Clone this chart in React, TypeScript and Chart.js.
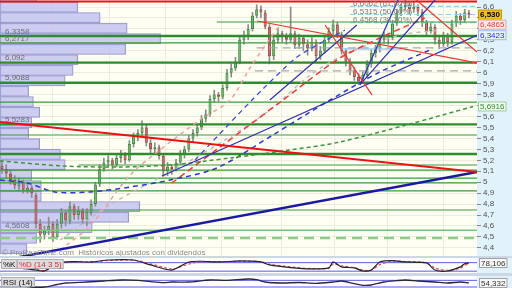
import React, { useEffect, useRef } from "react";
import { Chart, registerables } from "chart.js";
Chart.register(...registerables);

// ---------- price data (daily candles) ----------
const opens = [5.15,5.12,5.08,5.02,4.96,5.00,4.92,4.95,4.88,4.62,4.52,4.56,4.62,4.50,4.62,4.72,4.64,4.78,4.70,4.74,4.66,4.72,4.80,4.98,5.12,5.18,5.20,5.16,5.22,5.25,5.20,5.35,5.42,5.45,5.50,5.36,5.30,5.32,5.24,5.10,5.14,5.12,5.18,5.26,5.30,5.40,5.45,5.50,5.58,5.62,5.76,5.80,5.78,5.86,6.00,6.04,6.10,6.30,6.34,6.40,6.52,6.58,6.55,6.42,6.15,6.30,6.36,6.33,6.30,6.36,6.25,6.32,6.26,6.22,6.28,6.15,6.20,6.30,6.38,6.44,6.35,6.20,6.10,6.02,5.96,5.92,5.98,6.08,6.18,6.22,6.30,6.34,6.32,6.45,6.55,6.60,6.62,6.58,6.60,6.56,6.46,6.38,6.42,6.30,6.26,6.34,6.28,6.45,6.52,6.48,6.55];
const highs = [5.20,5.16,5.10,5.06,5.04,5.02,4.99,4.97,4.90,4.66,4.60,4.68,4.64,4.66,4.76,4.74,4.82,4.80,4.78,4.76,4.76,4.84,5.00,5.16,5.22,5.24,5.22,5.26,5.29,5.27,5.38,5.45,5.48,5.56,5.52,5.40,5.36,5.34,5.26,5.18,5.16,5.21,5.29,5.33,5.43,5.48,5.53,5.61,5.66,5.79,5.84,5.82,5.89,6.03,6.08,6.14,6.33,6.38,6.44,6.55,6.62,6.61,6.57,6.44,6.33,6.40,6.38,6.36,6.60,6.38,6.35,6.34,6.30,6.32,6.30,6.24,6.33,6.41,6.48,6.46,6.37,6.22,6.13,6.05,5.99,6.01,6.11,6.21,6.25,6.33,6.37,6.36,6.48,6.58,6.63,6.66,6.64,6.65,6.62,6.58,6.48,6.46,6.44,6.34,6.37,6.36,6.48,6.56,6.54,6.58,6.57];
const lows = [5.08,5.04,4.98,4.94,4.93,4.90,4.90,4.86,4.58,4.45,4.48,4.52,4.46,4.48,4.58,4.60,4.62,4.66,4.66,4.62,4.60,4.70,4.78,4.96,5.10,5.14,5.12,5.14,5.18,5.17,5.19,5.32,5.38,5.42,5.33,5.27,5.26,5.21,5.05,5.06,5.07,5.10,5.16,5.22,5.28,5.37,5.42,5.48,5.55,5.60,5.73,5.74,5.76,5.84,5.96,6.02,6.08,6.26,6.30,6.38,6.50,6.50,6.40,6.08,6.12,6.27,6.28,6.26,6.28,6.22,6.22,6.20,6.16,6.20,6.10,6.12,6.18,6.28,6.35,6.32,6.17,6.06,5.98,5.93,5.89,5.90,5.96,6.05,6.14,6.19,6.27,6.26,6.30,6.43,6.52,6.57,6.54,6.55,6.52,6.42,6.34,6.36,6.26,6.22,6.24,6.24,6.26,6.42,6.44,6.46,6.50];
const closes = [5.12,5.08,5.02,4.97,5.00,4.93,4.95,4.90,4.62,4.52,4.56,4.60,4.50,4.62,4.72,4.65,4.78,4.70,4.74,4.66,4.73,4.80,4.98,5.12,5.18,5.20,5.16,5.22,5.25,5.20,5.35,5.42,5.45,5.50,5.36,5.30,5.32,5.24,5.10,5.14,5.12,5.18,5.26,5.30,5.40,5.45,5.50,5.58,5.62,5.76,5.80,5.78,5.86,6.00,6.04,6.10,6.30,6.34,6.40,6.52,6.58,6.55,6.42,6.15,6.30,6.36,6.33,6.30,6.36,6.25,6.32,6.26,6.22,6.28,6.15,6.20,6.30,6.38,6.44,6.35,6.20,6.10,6.02,5.96,5.92,5.98,6.08,6.18,6.22,6.30,6.34,6.32,6.45,6.55,6.60,6.62,6.58,6.60,6.56,6.46,6.38,6.42,6.30,6.26,6.34,6.28,6.45,6.52,6.48,6.55,6.53];

// vertical grid (period separators), in candle index units
const gridDates = [11.8, 25.4, 38.6, 51.8, 65.9, 78.4, 90.8, 104];

// volume-by-price profile
const profilePrices = [6.694,6.598,6.502,6.406,6.310,6.214,6.118,6.022,5.927,5.831,5.735,5.639,5.543,5.447,5.351,5.255,5.159,5.063,4.967,4.872,4.776,4.680,4.584,4.488,4.392];
const profileVolumes = [23,49,63,80,101,79,49,46,41,18,21,25,20,18,25,38,41,20,26,26,88,81,58,23,17];
const profileLabels = [6.3358, 6.2717, 6.092, 5.9088, 5.5283, 4.5608];

// horizontal support / resistance levels
const majorLevels = [6.3358, 6.092, 5.9088, 5.5283, 5.258];
const minorLevels = [6.2717, 5.732, 5.431, 5.111, 5.038, 4.993, 4.920, 4.746];
const partialLevels = [[50.6, 6.463], [18, 5.157]]; // [start index, price]
const lightLevel = 4.5608;
const dashedLevel = 4.490;
const topRedLevel = 6.650;
const greyDashedLevels = [[60, 6.226], [59.6, 6.016]];
const fibLevels = [6.6062, 6.5315, 6.4568];
const fibNames = ["61,80%", "50,00%", "38,20%"];
const cyanSegment = [[79.6, 6.216], [94, 6.216]];

// trend lines: [index, price] pairs
const redMain = [[-0.47, 5.550], [111.9, 5.093]];
const navyMain = [[-0.47, 4.284], [111.9, 5.093]];
const redT1 = [[60.1, 6.472], [111.9, 6.089]];
const redT2 = [[94.9, 6.755], [111.9, 6.189]];
const redT3 = [[76.1, 6.436], [87.2, 5.796]];
const navyT1 = [[84.3, 5.888], [102, 6.664]];
const navyT2 = [[84.3, 5.888], [93.3, 6.664]];
const navyT3 = [[37.7, 5.057], [111.9, 6.3423]];
const navyT4 = [[63.1, 5.751], [83.6, 6.436]];

// moving averages / channels (dashed)
const greenMA = [[-0.47,5.194],[14.4,5.148],[27.8,5.139],[39.6,5.157],[53.7,5.221],[67.8,5.294],[79.6,5.367],[96.1,5.532],[111,5.6916]];
const navyMA = [[-0.47,5.020],[5.9,4.993],[12.5,4.911],[20.7,4.911],[30.2,4.956],[39.6,5.020],[50.6,5.130],[63.8,5.431],[77.3,5.751],[89,6.006],[100.8,6.207]];
const pinkMA = [[13.7,4.381],[20.7,4.600],[30.2,5.066],[37.2,5.294],[46.6,5.568],[53.7,5.751],[58.4,6.043],[62.4,6.271],[66,6.463]];
const redMA = [[40,4.993],[51.4,5.322],[66.2,5.751],[78.9,6.116],[89,6.317],[99.6,6.500]];
const greyMA = [[13.7,4.472],[25.4,4.792],[39.6,5.093],[51.4,5.358],[63.1,5.659],[72.6,5.979],[82,6.189],[93.8,6.344],[103.2,6.390]];
const navyChannel = [[45.5,5.203],[58.9,5.751],[69.5,6.143],[80.8,6.390]];

// price markers on the axis
const markerValues = [6.53, 6.4865, 6.3423, 5.6916];

// oscillators
const stochIdx = [0,4,8,10,13,15,17,21,25,31,35,40,44,47,51,56,61,63,68,73,77,78,80,83,85,87,89,92,95,100,102,105,108,109,110];
const stochK = [64,43,28,21,78,85,88,85,99,99,64,28,85,90,85,92,85,64,45,36,43,85,50,43,21,28,85,95,85,78,28,21,50,72,78.106];
const stochD = [66,48,33,24,60,80,86,86,95,98,72,36,70,87,86,89,87,70,50,38,41,70,58,45,28,26,66,90,88,80,42,25,40,62,70];
const stochLevels = [80, 20];
const rsiIdx = [0,3,7,10,13,15,20,24,28,32,35,38,40,44,49,53,58,60,62,66,70,74,78,80,83,85,87,90,93,95,98,102,105,108,110];
const rsiVals = [48,42,30,30,45,54,60,66,72,70,62,56,60,60,72,70,78,74,60,54,57,52,60,66,50,40,42,60,68,72,66,60,54,60,54.332];
const rsiLevels = [70, 30];

const priceMin = 4.326, priceMax = 6.664;
const idxMin = -0.47, idxMax = 111.9;

const FONT = '"Liberation Sans", Arial, sans-serif';
const AXIS_W = 35;

const fmtTick = (v: number) => {
  const r = Math.round(v * 10) / 10;
  return (Number.isInteger(r) ? String(r) : r.toFixed(1)).replace(".", ",");
};
const fmtNum = (v: number, d: number) => v.toFixed(d).replace(".", ",");

const seg = (pts: number[][], color: string, width: number, dash: number[] = [], tension = 0, order = 0) => ({
  type: "line" as const,
  data: pts.map(([x, y]) => ({ x, y })),
  borderColor: color,
  borderWidth: width,
  borderDash: dash,
  pointRadius: 0,
  tension,
  fill: false,
  xAxisID: "x",
  yAxisID: "y",
  order,
});

function bgPlugin(plotColor: string) {
  return {
    id: "bg",
    beforeDraw(chart: any) {
      const { ctx, chartArea, width, height } = chart;
      ctx.save();
      ctx.fillStyle = plotColor;
      ctx.fillRect(0, 0, width, height);
      ctx.fillStyle = "#E2F2FB";
      ctx.fillRect(chartArea.right, 0, width - chartArea.right, height);
      ctx.restore();
    },
  };
}

function drawBox(ctx: any, x: number, y: number, text: string, bg: string, fg: string, border: string, bold = false) {
  ctx.font = `${bold ? "bold " : ""}8px ${FONT}`;
  const w = ctx.measureText(text).width + 4;
  ctx.fillStyle = bg;
  ctx.fillRect(x, y - 5, w, 10);
  ctx.strokeStyle = border;
  ctx.lineWidth = 1;
  ctx.strokeRect(x + 0.5, y - 4.5, w - 1, 9);
  ctx.fillStyle = fg;
  ctx.textBaseline = "middle";
  ctx.textAlign = "left";
  ctx.fillText(text, x + 2, y + 0.5);
}

function mainConfig(): any {
  const up = closes.map((c, i) => c >= opens[i]);
  const datasets: any[] = [
    // trend lines on top
    seg(redMain, "#EE1111", 2.2),
    seg(navyMain, "#1A1AA0", 2.4),
    seg(redT1, "#EE3333", 1.2),
    seg(redT2, "#EE3333", 1.2),
    seg(redT3, "#EE3333", 1.2),
    seg(navyT1, "#3030B0", 1.2),
    seg(navyT2, "#3030B0", 1.2),
    seg(navyT3, "#3030B0", 1.2),
    seg(navyT4, "#3030B0", 1.2),
    seg(greenMA, "#3C963C", 1.5, [4, 3], 0.3, 1),
    seg(navyMA, "#2A3ACC", 1.5, [5, 4], 0.3, 1),
    seg(pinkMA, "#F2A0A0", 1.5, [4, 4], 0.3, 1),
    seg(redMA, "#EE3A3A", 1.5, [6, 4], 0.3, 1),
    seg(greyMA, "#BDBDBD", 1.5, [4, 4], 0.3, 1),
    seg(navyChannel, "#3A4ADD", 1.3, [5, 4], 0.2, 1),
    seg([[idxMin, topRedLevel], [idxMax, topRedLevel]], "#EE1111", 2, [], 0, 2),
    ...majorLevels.map((p) => seg([[idxMin, p], [idxMax, p]], "#2E8B2E", 2.4, [], 0, 2)),
    ...minorLevels.map((p) => seg([[idxMin, p], [idxMax, p]], "#3A9A3A", 1.2, [], 0, 2)),
    ...partialLevels.map(([s, p]) => seg([[s, p], [idxMax, p]], "#3A9A3A", 1.2, [], 0, 2)),
    seg([[idxMin, lightLevel], [idxMax, lightLevel]], "#7CC07C", 1.5, [], 0, 2),
    seg([[idxMin, dashedLevel], [idxMax, dashedLevel]], "#8CCB8C", 2.5, [10, 6], 0, 2),
    ...greyDashedLevels.map(([s, p]) => seg([[s, p], [idxMax, p]], "#A8A8A8", 1.2, [8, 5], 0, 2)),
    ...fibLevels.map((p) => seg([[82, p], [idxMax, p]], "#8FD0F2", 1.2, [5, 3], 0, 2)),
    seg(cyanSegment, "#9AD4F2", 1.5, [], 0, 2),
    {
      type: "bar",
      data: opens.map((o, i) => ({ x: i, y: [o, closes[i]] })),
      backgroundColor: up.map((u) => (u ? "#74BE74" : "#CC7070")),
      borderColor: up.map((u) => (u ? "#3F8A3F" : "#9E4646")),
      borderWidth: 1,
      borderSkipped: false,
      barPercentage: 0.72,
      categoryPercentage: 1,
      grouped: false,
      xAxisID: "x",
      yAxisID: "y",
      order: 3,
    },
    {
      type: "bar",
      data: lows.map((l, i) => ({ x: i, y: [l, highs[i]] })),
      backgroundColor: "#8C8C8C",
      borderWidth: 0,
      barThickness: 1,
      grouped: false,
      xAxisID: "x",
      yAxisID: "y",
      order: 4,
    },
    {
      type: "bar",
      indexAxis: "y",
      data: profileVolumes.map((v, i) => ({ x: v, y: profilePrices[i] })),
      backgroundColor: "rgba(196,196,240,0.85)",
      borderColor: "#9494CC",
      borderWidth: 1,
      borderSkipped: false,
      barPercentage: 1,
      categoryPercentage: 1,
      grouped: false,
      xAxisID: "xv",
      yAxisID: "yv",
      order: 5,
    },
  ];

  const labelPlugin = {
    id: "labels",
    afterDraw(chart: any) {
      const { ctx, scales, chartArea } = chart;
      const ys = scales.y, xs = scales.x;
      ctx.save();
      ctx.font = `8px ${FONT}`;
      ctx.fillStyle = "#6E6E6E";
      ctx.textAlign = "left";
      ctx.textBaseline = "bottom";
      profileLabels.forEach((p) => ctx.fillText(fmtNum(p, p === 6.092 ? 3 : 4), 5, ys.getPixelForValue(p) - 0.5));
      ctx.fillStyle = "#7A7A7A";
      fibLevels.forEach((p, i) =>
        ctx.fillText(`${fmtNum(p, 4)} (${fibNames[i]})`, xs.getPixelForValue(82.7), ys.getPixelForValue(p) + 1.5)
      );
      ctx.fillStyle = "#8A8A8A";
      ctx.textBaseline = "middle";
      ctx.fillText("© ProRealTime.com  Históricos ajustados con dividendos", 2, chartArea.bottom - 3);
      // axis markers
      const styles = [
        { bg: "#F4C20D", fg: "#000000", border: "#C99A00", d: 3, bold: true },
        { bg: "#FDEAEA", fg: "#E23C3C", border: "#E6A6A6", d: 4, bold: false },
        { bg: "#EAF0FF", fg: "#1F3BC6", border: "#A8B6E4", d: 4, bold: false },
        { bg: "#F2FFF2", fg: "#2E8A2E", border: "#9CC69C", d: 4, bold: false },
      ];
      let lastBottom = -100;
      markerValues.forEach((v, i) => {
        let y = ys.getPixelForValue(v);
        if (y - 5 < lastBottom) y = lastBottom + 5;
        lastBottom = y + 5;
        const s = styles[i];
        drawBox(ctx, chartArea.right + 1, y, fmtNum(v, s.d), s.bg, s.fg, s.border, s.bold);
      });
      ctx.restore();
    },
  };

  return {
    type: "bar",
    data: { datasets },
    options: {
      responsive: false,
      animation: false,
      devicePixelRatio: 1,
      layout: { padding: 0 },
      plugins: { legend: { display: false }, tooltip: { enabled: false } },
      scales: {
        x: {
          type: "linear",
          min: idxMin,
          max: idxMax,
          offset: false,
          ticks: { display: false },
          grid: { color: "#EEECDD", drawTicks: false, offset: false },
          border: { display: false },
          afterBuildTicks: (s: any) => {
            s.ticks = gridDates.map((v) => ({ value: v }));
          },
          afterFit: (s: any) => {
            s.height = 0;
            s.paddingLeft = 0;
            s.paddingRight = 0;
          },
        },
        y: {
          type: "linear",
          position: "right",
          min: priceMin,
          max: priceMax,
          offset: false,
          ticks: {
            stepSize: 0.1,
            includeBounds: false,
            autoSkip: false,
            padding: 2,
            color: "#505050",
            font: { size: 8, family: FONT },
            callback: (v: any) => fmtTick(Number(v)),
          },
          grid: { color: "#EEECDD", tickColor: "#8A8A8A", tickLength: 4, drawTicks: true },
          border: { display: false },
          afterFit: (s: any) => {
            s.width = AXIS_W;
            s.paddingTop = 0;
            s.paddingBottom = 0;
          },
        },
        xv: { type: "linear", axis: "x", min: 0, max: 300, display: false, offset: false },
        yv: {
          type: "linear",
          axis: "y",
          min: priceMin,
          max: priceMax,
          display: false,
          offset: false,
          ticks: { stepSize: 0.5, includeBounds: false },
        },
      },
    },
    plugins: [bgPlugin("#FFFFF4"), labelPlugin],
  };
}

function oscConfig(kind: "stoch" | "rsi"): any {
  const levels = kind === "stoch" ? stochLevels : rsiLevels;
  const lvl = levels.map((v) => ({
    type: "line",
    data: [{ x: idxMin, y: v }, { x: idxMax, y: v }],
    borderColor: "#5B5BE6",
    borderWidth: 1,
    pointRadius: 0,
  }));
  const series =
    kind === "stoch"
      ? [
          { type: "line", data: stochIdx.map((x, i) => ({ x, y: stochK[i] })), borderColor: "#222222", borderWidth: 1.2, pointRadius: 0, tension: 0.25 },
          { type: "line", data: stochIdx.map((x, i) => ({ x, y: stochD[i] })), borderColor: "#E25555", borderWidth: 1.2, borderDash: [3, 2], pointRadius: 0, tension: 0.25 },
        ]
      : [{ type: "line", data: rsiIdx.map((x, i) => ({ x, y: rsiVals[i] })), borderColor: "#2A2A2A", borderWidth: 1.3, pointRadius: 0, tension: 0.25 }];
  const last = kind === "stoch" ? stochK[stochK.length - 1] : rsiVals[rsiVals.length - 1];
  const labelPlugin = {
    id: "osclabels",
    afterDraw(chart: any) {
      const { ctx, chartArea, scales } = chart;
      ctx.save();
      if (kind === "stoch") {
        drawBox(ctx, 1, 6, "%K", "#DCDCDC", "#111111", "#B0B0B0");
        drawBox(ctx, 17, 6, "%D (14 3 5)", "#DCDCDC", "#D83030", "#B0B0B0");
      } else {
        drawBox(ctx, 1, 6, "RSI (14)", "#DCDCDC", "#111111", "#B0B0B0");
      }
      const y = Math.min(Math.max(scales.y.getPixelForValue(last), 5), chart.height - 5);
      drawBox(ctx, chartArea.right + 2, y, fmtNum(last, 3), "#F8F8F8", "#333333", "#A0A0A0");
      ctx.restore();
    },
  };
  return {
    type: "line",
    data: { datasets: [...series, ...lvl] },
    options: {
      responsive: false,
      animation: false,
      devicePixelRatio: 1,
      layout: { padding: { left: 0, right: AXIS_W, top: 0, bottom: 0 } },
      plugins: { legend: { display: false }, tooltip: { enabled: false } },
      scales: {
        x: { type: "linear", min: idxMin, max: idxMax, display: false },
        y: kind === "stoch" ? { min: 7, max: 113, display: false } : { min: 24, max: 96, display: false },
      },
    },
    plugins: [bgPlugin("#FFFFFF"), labelPlugin],
  };
}

export default function App() {
  const mainRef = useRef<HTMLCanvasElement>(null);
  const stochRef = useRef<HTMLCanvasElement>(null);
  const rsiRef = useRef<HTMLCanvasElement>(null);
  useEffect(() => {
    document.body.style.margin = "0";
    document.body.style.overflow = "hidden";
    const charts = [
      new Chart(mainRef.current as HTMLCanvasElement, mainConfig()),
      new Chart(stochRef.current as HTMLCanvasElement, oscConfig("stoch")),
      new Chart(rsiRef.current as HTMLCanvasElement, oscConfig("rsi")),
    ];
    return () => charts.forEach((c) => c.destroy());
  }, []);
  return (
    <div style={{ position: "relative", width: 512, height: 288, overflow: "hidden", background: "#CCD8E6" }}>
      <canvas ref={mainRef} width={512} height={256} style={{ position: "absolute", left: 0, top: 0, width: 512, height: 256 }} />
      <canvas ref={stochRef} width={512} height={15} style={{ position: "absolute", left: 0, top: 258, width: 512, height: 15 }} />
      <canvas ref={rsiRef} width={512} height={12} style={{ position: "absolute", left: 0, top: 276, width: 512, height: 12 }} />
    </div>
  );
}
